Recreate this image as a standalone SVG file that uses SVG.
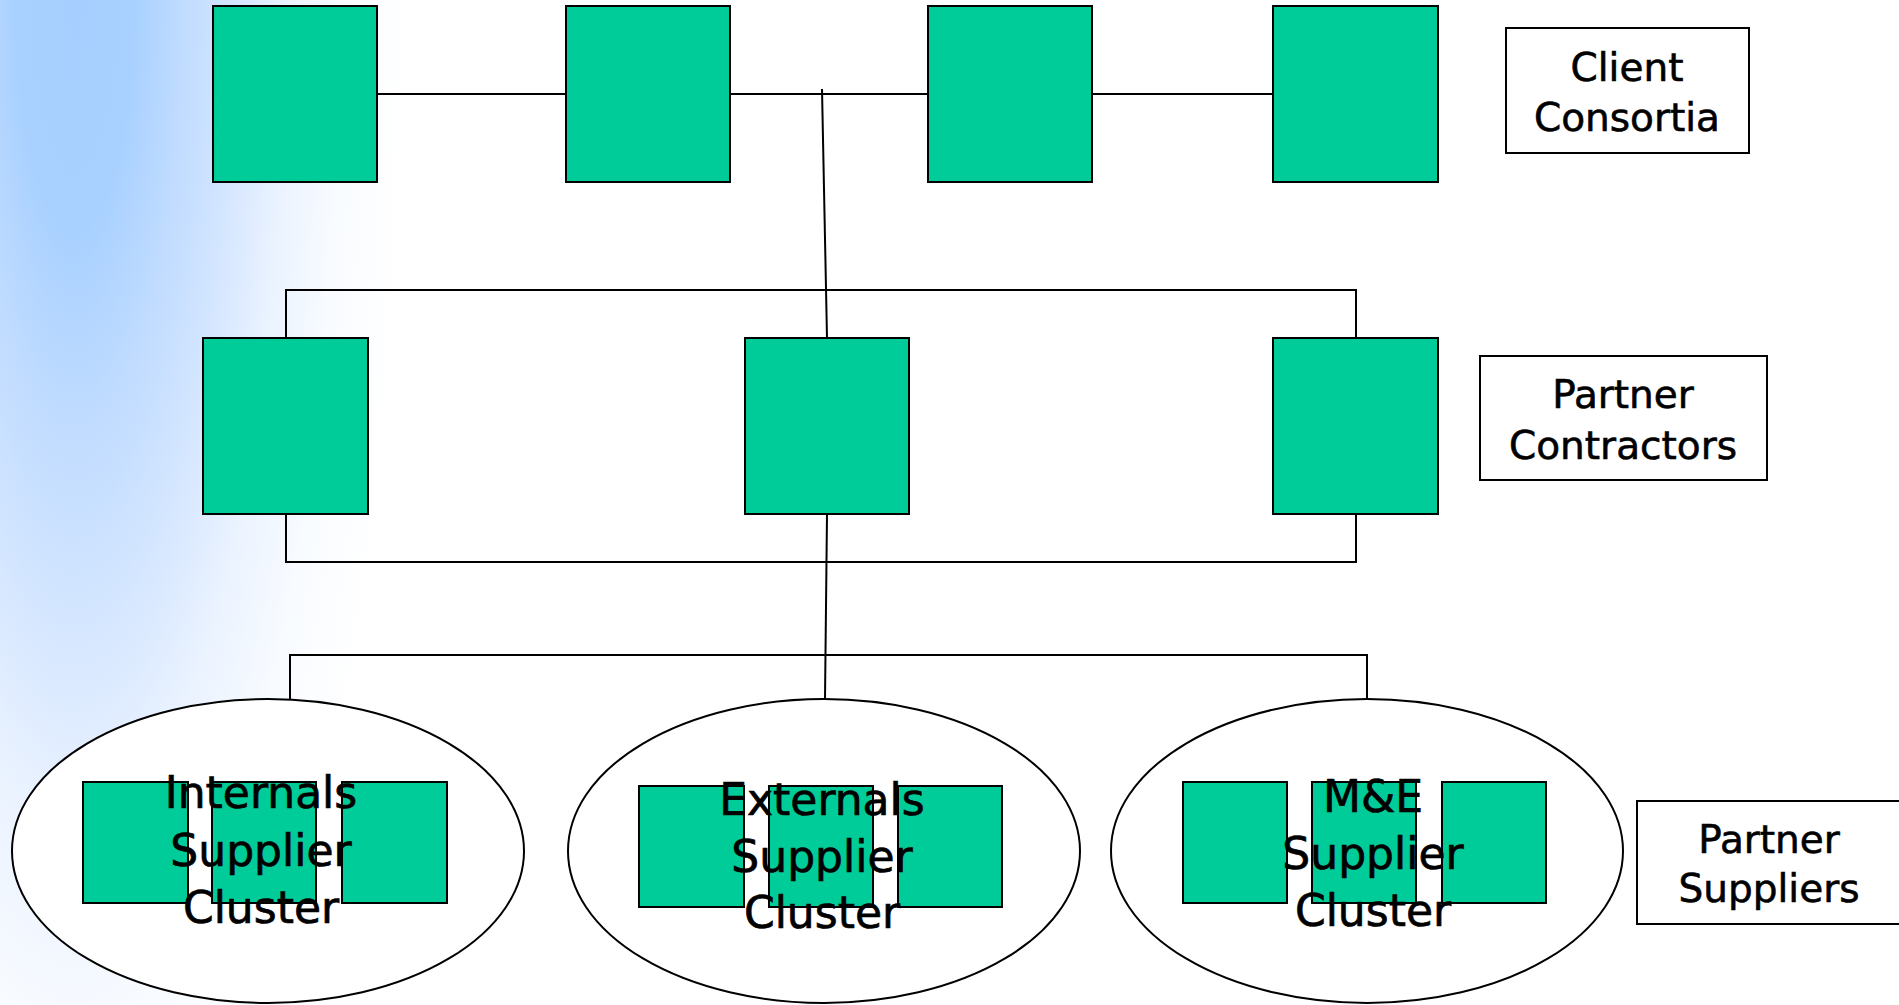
<svg xmlns="http://www.w3.org/2000/svg" width="1899" height="1005" viewBox="0 0 1899 1005">
  <defs>
    <radialGradient id="bgGlow" gradientUnits="userSpaceOnUse" cx="0" cy="0" r="1" gradientTransform="translate(75 0) scale(330 1300)">
      <stop offset="0" stop-color="#A6CFFF"/>
      <stop offset="0.18" stop-color="#A9D1FF"/>
      <stop offset="0.32" stop-color="#BFDBFF"/>
      <stop offset="0.42" stop-color="#CCE2FF"/>
      <stop offset="0.52" stop-color="#DAE9FF"/>
      <stop offset="0.64" stop-color="#EBF3FF"/>
      <stop offset="0.8" stop-color="#F8FBFF"/>
      <stop offset="1" stop-color="#FFFFFF"/>
    </radialGradient>
    <style>
      .unit { fill: #00CC99; stroke: #000; stroke-width: 2; }
      .cluster { fill: #FFFFFF; stroke: #000; stroke-width: 2; }
      .legend { fill: #FFFFFF; stroke: #000; stroke-width: 2; }
      .wire { fill: none; stroke: #000; stroke-width: 2; }
      .lbl { font-family: "DejaVu Sans", Verdana, sans-serif; font-size: 39px; fill: #000; stroke: #000; stroke-width: 0.6; text-anchor: middle; }
      .clbl { font-family: "DejaVu Sans", Verdana, sans-serif; font-size: 44px; fill: #000; stroke: #000; stroke-width: 0.7; text-anchor: middle; }
    </style>
  </defs>

  <!-- background -->
  <rect x="0" y="0" width="1899" height="1005" fill="#FFFFFF"/>
  <rect x="0" y="0" width="1899" height="1005" fill="url(#bgGlow)"/>

  <!-- connectors -->
  <g id="connectors">
    <!-- client row links -->
    <line class="wire" x1="377" y1="94" x2="566" y2="94"/>
    <line class="wire" x1="730" y1="94" x2="928" y2="94"/>
    <line class="wire" x1="1092" y1="94" x2="1273" y2="94"/>
    <!-- client to contractors -->
    <line class="wire" x1="822" y1="89" x2="827" y2="338"/>
    <!-- contractor upper bus -->
    <polyline class="wire" points="286,338 286,290 1356,290 1356,338"/>
    <!-- contractor lower bus -->
    <polyline class="wire" points="286,514 286,562 1356,562 1356,514"/>
    <!-- contractors to suppliers -->
    <line class="wire" x1="827" y1="514" x2="825" y2="699"/>
    <polyline class="wire" points="290,699 290,655 1367,655 1367,699"/>
  </g>

  <!-- client consortia -->
  <g id="client-1"><rect class="unit" x="213" y="6" width="164" height="176"/></g>
  <g id="client-2"><rect class="unit" x="566" y="6" width="164" height="176"/></g>
  <g id="client-3"><rect class="unit" x="928" y="6" width="164" height="176"/></g>
  <g id="client-4"><rect class="unit" x="1273" y="6" width="165" height="176"/></g>

  <!-- partner contractors -->
  <g id="contractor-1"><rect class="unit" x="203" y="338" width="165" height="176"/></g>
  <g id="contractor-2"><rect class="unit" x="745" y="338" width="164" height="176"/></g>
  <g id="contractor-3"><rect class="unit" x="1273" y="338" width="165" height="176"/></g>

  <!-- supplier clusters -->
  <g id="cluster-internals">
    <ellipse class="cluster" cx="268" cy="851" rx="256" ry="152"/>
    <rect class="unit" x="83" y="782" width="105" height="121"/>
    <rect class="unit" x="212" y="782" width="104" height="121"/>
    <rect class="unit" x="342" y="782" width="105" height="121"/>
    <text class="clbl" x="261" y="808">Internals</text>
    <text class="clbl" x="261" y="866">Supplier</text>
    <text class="clbl" x="261" y="923">Cluster</text>
  </g>
  <g id="cluster-externals">
    <ellipse class="cluster" cx="824" cy="851" rx="256" ry="152"/>
    <rect class="unit" x="639" y="786" width="105" height="121"/>
    <rect class="unit" x="769" y="786" width="104" height="121"/>
    <rect class="unit" x="898" y="786" width="104" height="121"/>
    <text class="clbl" x="822" y="815">Externals</text>
    <text class="clbl" x="822" y="872">Supplier</text>
    <text class="clbl" x="822" y="928">Cluster</text>
  </g>
  <g id="cluster-me">
    <ellipse class="cluster" cx="1367" cy="851" rx="256" ry="152"/>
    <rect class="unit" x="1183" y="782" width="104" height="121"/>
    <rect class="unit" x="1312" y="782" width="104" height="121"/>
    <rect class="unit" x="1442" y="782" width="104" height="121"/>
    <text class="clbl" x="1373" y="812">M&amp;E</text>
    <text class="clbl" x="1373" y="869">Supplier</text>
    <text class="clbl" x="1373" y="926">Cluster</text>
  </g>

  <!-- tier labels -->
  <g id="label-client">
    <rect class="legend" x="1506" y="28" width="243" height="125"/>
    <text class="lbl" x="1627" y="81">Client</text>
    <text class="lbl" x="1627" y="131">Consortia</text>
  </g>
  <g id="label-contractors">
    <rect class="legend" x="1480" y="356" width="287" height="124"/>
    <text class="lbl" x="1623" y="408">Partner</text>
    <text class="lbl" x="1623" y="459">Contractors</text>
  </g>
  <g id="label-suppliers">
    <rect class="legend" x="1637" y="801" width="275" height="123"/>
    <text class="lbl" x="1769" y="853">Partner</text>
    <text class="lbl" x="1769" y="902">Suppliers</text>
  </g>
</svg>
